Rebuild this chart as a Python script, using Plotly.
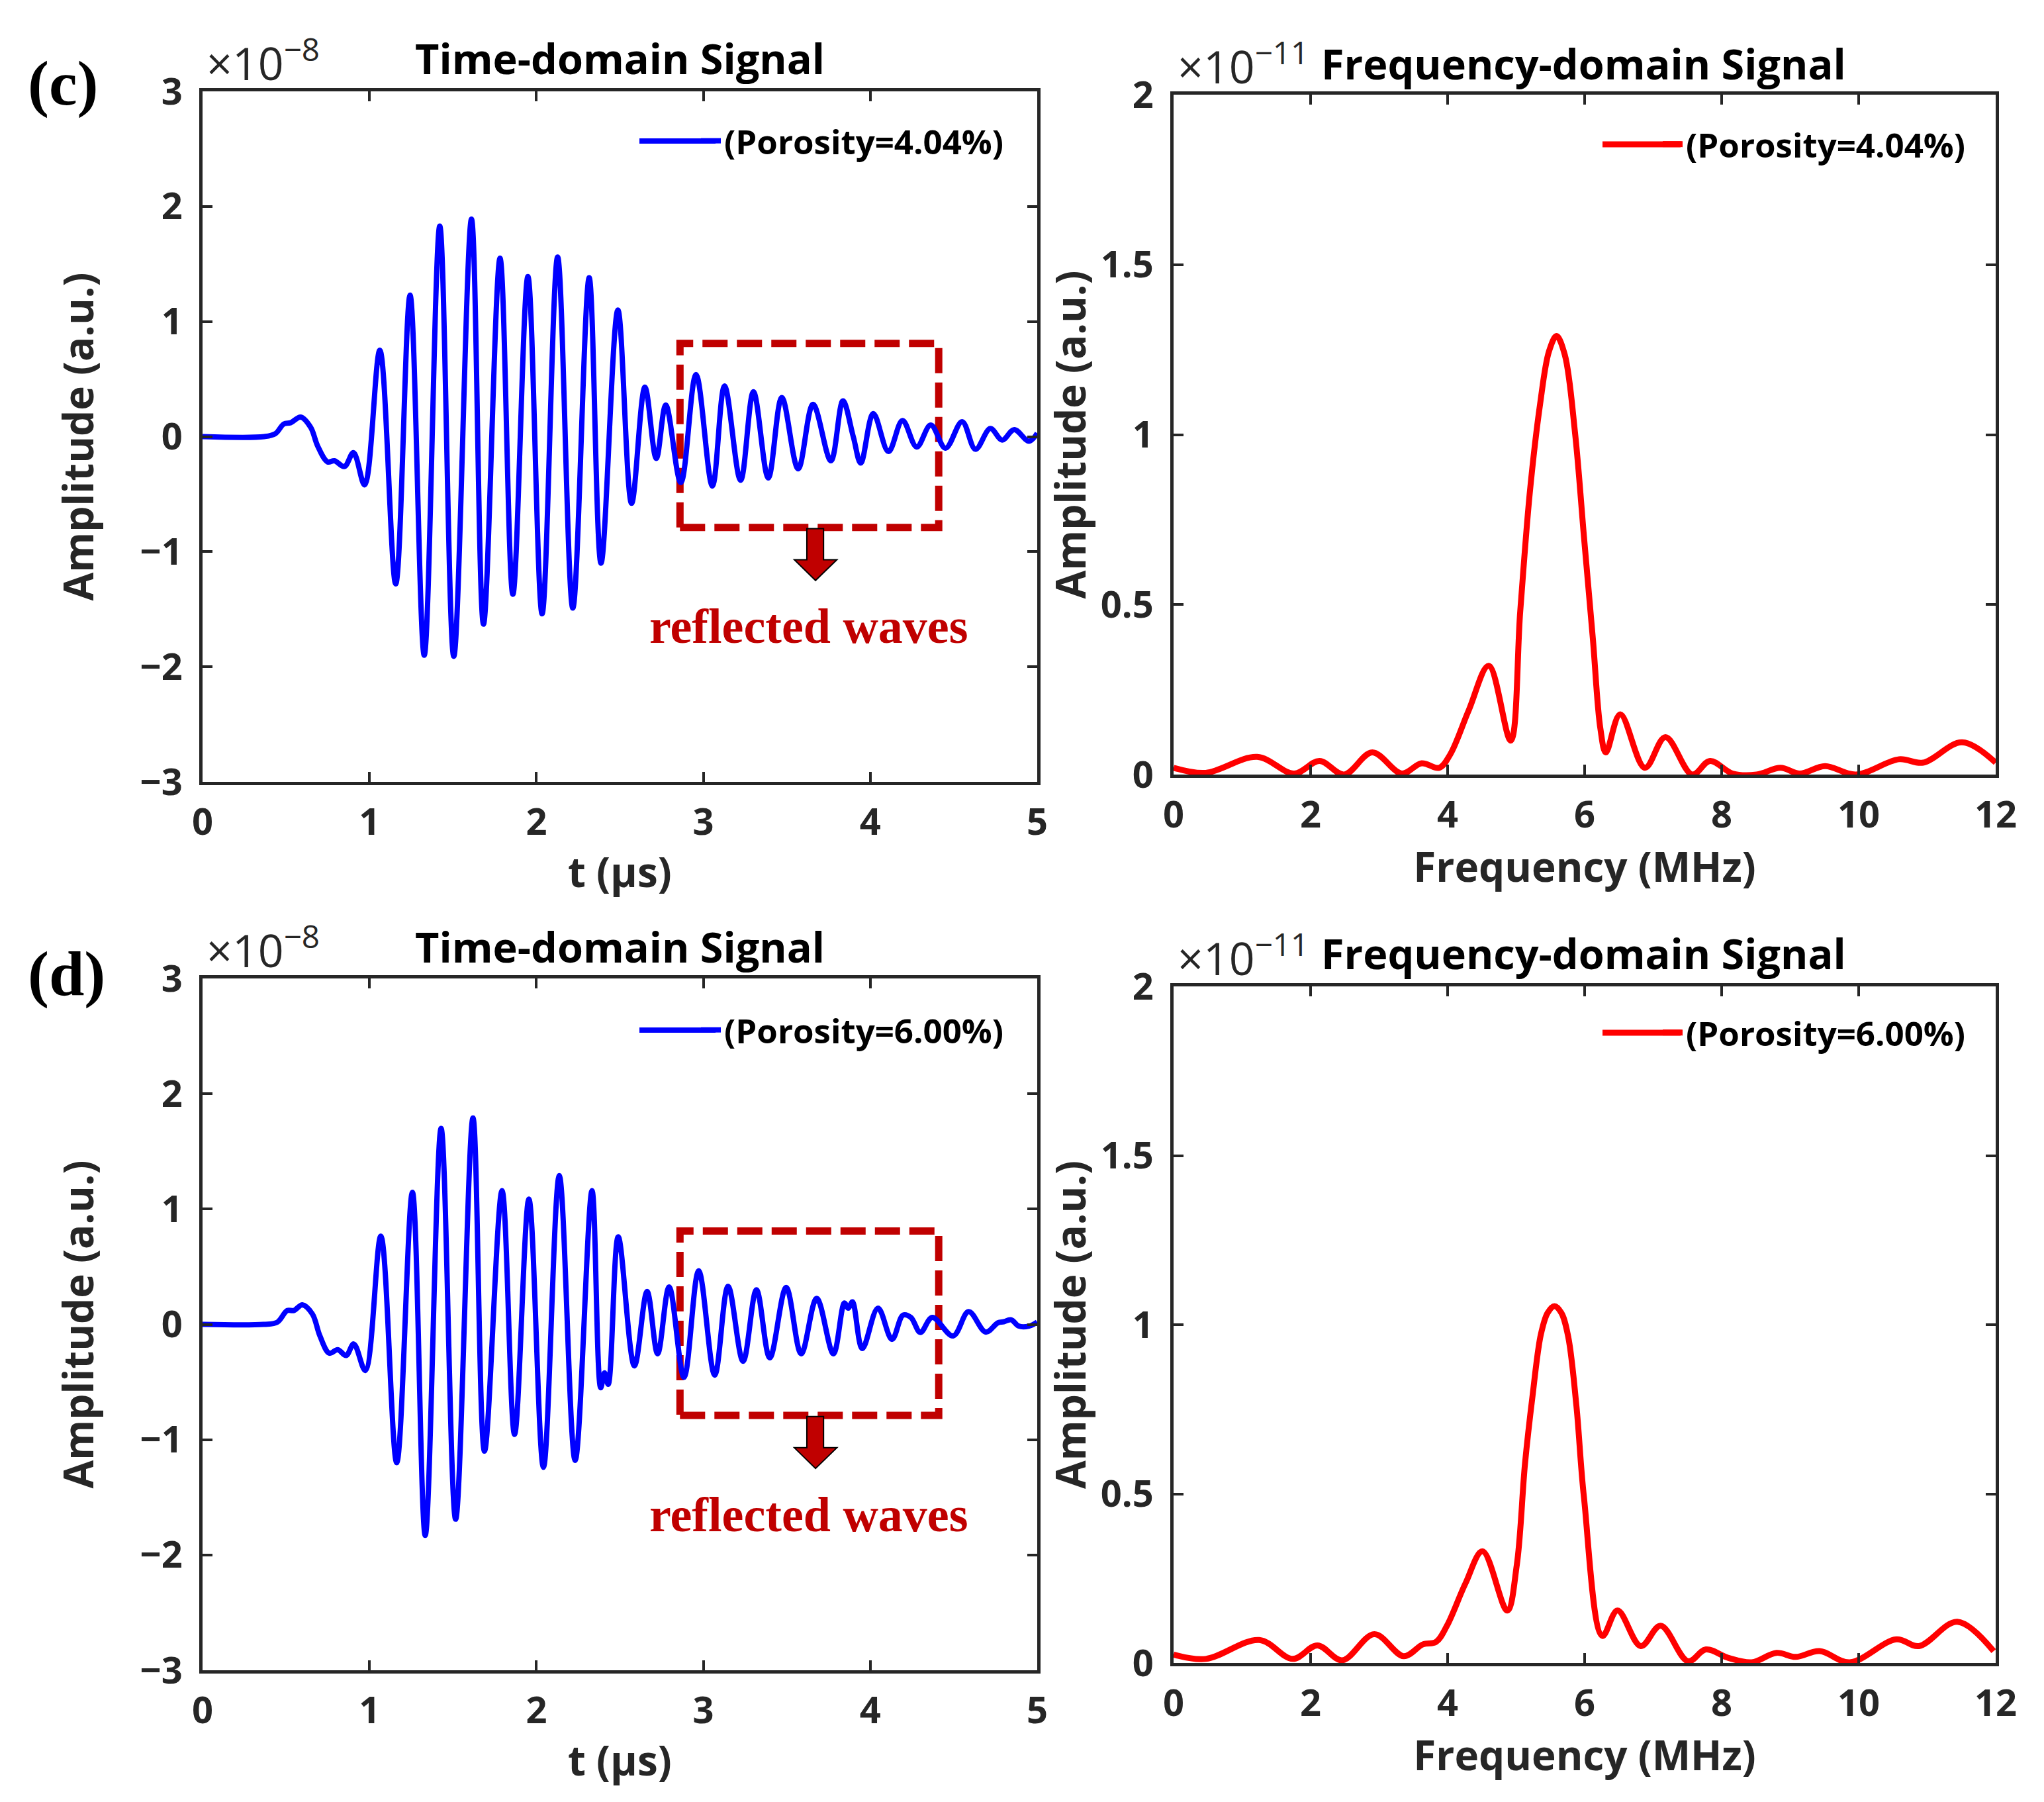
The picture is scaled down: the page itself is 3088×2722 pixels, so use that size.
import plotly.graph_objects as go

W, H = 3088, 2722          # window size
OFF = 8                    # default page margin of the html body
FW, FH = W - 2 * OFF, H - 2 * OFF

# ---------------- data ----------------
# (c) time-domain signal, porosity 4.04 %  (t in µs, amplitude in 1e-8)
t_c = [0.0, 0.37, 0.436, 0.487, 0.527, 0.588, 0.648, 0.689, 0.749, 0.79, 0.85, 0.904, 0.971,
       1.062, 1.157, 1.243, 1.328, 1.421, 1.505, 1.611, 1.683, 1.782, 1.859, 1.949, 2.034,
       2.127, 2.218, 2.316, 2.387, 2.488, 2.57, 2.65, 2.718, 2.775, 2.865, 2.956, 3.054,
       3.127, 3.223, 3.30, 3.389, 3.47, 3.568, 3.657, 3.764, 3.836, 3.898, 3.943, 4.018,
       4.109, 4.193, 4.278, 4.362, 4.451, 4.55, 4.63, 4.719, 4.79, 4.862, 4.951, 5.0]
amp_c = [0.0, 0.0, 0.025, 0.11, 0.12, 0.17, 0.08, -0.08, -0.22, -0.21, -0.26, -0.14, -0.42,
         0.75, -1.28, 1.23, -1.90, 1.83, -1.91, 1.89, -1.63, 1.55, -1.37, 1.39, -1.54,
         1.56, -1.49, 1.38, -1.10, 1.10, -0.58, 0.43, -0.19, 0.275, -0.40, 0.54, -0.43,
         0.44, -0.38, 0.39, -0.36, 0.34, -0.28, 0.28, -0.21, 0.31, 0.0, -0.23, 0.20,
         -0.13, 0.14, -0.09, 0.10, -0.10, 0.13, -0.11, 0.07, -0.03, 0.06, -0.04, 0.03]

# (c) frequency-domain signal (f in MHz, amplitude in 1e-11)
f_c = [0.0, 0.47, 1.22, 1.76, 2.13, 2.49, 2.90, 3.33, 3.62, 3.88, 4.04, 4.31, 4.60, 4.92,
       5.06, 5.20, 5.35, 5.48, 5.59, 5.71, 5.86, 5.99, 6.12, 6.23, 6.31, 6.52, 6.88, 7.18,
       7.57, 7.83, 8.16, 8.51, 8.86, 9.14, 9.51, 9.96, 10.59, 10.94, 11.51, 12.0]
spec_c = [0.02, 0.005, 0.052, 0.003, 0.04, 0.0, 0.065, 0.003, 0.033, 0.02, 0.06, 0.19, 0.32, 0.10,
          0.48, 0.83, 1.09, 1.245, 1.29, 1.235, 1.005, 0.70, 0.40, 0.135, 0.065, 0.177, 0.02, 0.11,
          0.0, 0.04, 0.003, 0.0, 0.02, 0.003, 0.025, 0.0, 0.045, 0.035, 0.095, 0.035]

# (d) time-domain signal, porosity 6.00 %
t_d = [0.0, 0.366, 0.447, 0.507, 0.547, 0.598, 0.658, 0.703, 0.759, 0.81, 0.86, 0.906, 0.975,
       1.068, 1.163, 1.257, 1.334, 1.429, 1.516, 1.62, 1.689, 1.794, 1.869, 1.955, 2.042,
       2.137, 2.232, 2.333, 2.385, 2.408, 2.43, 2.49, 2.587, 2.663, 2.726, 2.795, 2.884,
       2.972, 3.068, 3.148, 3.238, 3.318, 3.398, 3.496, 3.586, 3.679, 3.779, 3.845, 3.868,
       3.893, 3.952, 4.046, 4.13, 4.196, 4.243, 4.30, 4.371, 4.496, 4.589, 4.692, 4.764,
       4.80, 4.844, 4.889, 4.951, 5.0]
amp_d = [0.0, 0.0, 0.018, 0.12, 0.12, 0.17, 0.09, -0.10, -0.25, -0.22, -0.27, -0.17, -0.40,
         0.765, -1.20, 1.146, -1.83, 1.70, -1.69, 1.79, -1.10, 1.16, -0.955, 1.087, -1.24,
         1.29, -1.18, 1.16, -0.55, -0.42, -0.52, 0.76, -0.36, 0.285, -0.255, 0.325, -0.46,
         0.465, -0.44, 0.33, -0.32, 0.30, -0.29, 0.32, -0.255, 0.225, -0.255, 0.185, 0.14,
         0.195, -0.21, 0.14, -0.13, 0.08, 0.06, -0.07, 0.06, -0.10, 0.11, -0.067, 0.013,
         0.023, 0.04, -0.015, -0.015, 0.02]

# (d) frequency-domain signal
f_d = [0.0, 0.47, 1.25, 1.74, 2.10, 2.46, 2.93, 3.36, 3.64, 3.83, 3.99, 4.26, 4.51, 4.87,
       5.01, 5.13, 5.24, 5.36, 5.46, 5.56, 5.66, 5.76, 5.88, 5.99, 6.26, 6.48, 6.82, 7.11,
       7.51, 7.77, 8.10, 8.44, 8.80, 9.08, 9.43, 9.87, 10.55, 10.88, 11.44, 11.97]
spec_d = [0.025, 0.012, 0.068, 0.012, 0.052, 0.008, 0.085, 0.02, 0.055, 0.062, 0.11, 0.235, 0.33, 0.155,
          0.29, 0.59, 0.79, 0.97, 1.035, 1.055, 1.035, 0.965, 0.76, 0.49, 0.08, 0.155, 0.05, 0.11,
          0.005, 0.04, 0.015, 0.002, 0.03, 0.018, 0.035, 0.002, 0.07, 0.05, 0.122, 0.035]

legend_c = "(Porosity=4.04%)"
legend_d = "(Porosity=6.00%)"
time_ticks = [0, 1, 2, 3, 4, 5]
amp_ticks = [-3, -2, -1, 0, 1, 2, 3]
freq_ticks = [0, 2, 4, 6, 8, 10, 12]
spec_ticks = [0, 0.5, 1, 1.5, 2]

# ---------------- styling ----------------
SANS = "Open Sans"
SERIF = "Liberation Serif"
INK = "#262626"
DARKRED = "#C00000"
BLUE = "#0000FF"
RED = "#FF0000"


def px(x):
    return (x - OFF) / FW


def py(y):
    return 1 - (y - OFF) / FH


X_L = [px(306), px(1567)]
X_R = [px(1773), px(3015)]
Y_TL = [py(1181), py(138)]
Y_TR = [py(1170), py(143)]
Y_BL = [py(2523), py(1478)]
Y_BR = [py(2512), py(1490)]

fig = go.Figure()

fig.add_trace(go.Scatter(x=t_c, y=amp_c, mode="lines", name=legend_c,
                         line=dict(color=BLUE, width=8, shape="spline", smoothing=1.0),
                         xaxis="x", yaxis="y", legend="legend"))
fig.add_trace(go.Scatter(x=f_c, y=spec_c, mode="lines", name=legend_c,
                         line=dict(color=RED, width=9, shape="spline", smoothing=1.0),
                         xaxis="x2", yaxis="y2", legend="legend2"))
fig.add_trace(go.Scatter(x=t_d, y=amp_d, mode="lines", name=legend_d,
                         line=dict(color=BLUE, width=8, shape="spline", smoothing=1.0),
                         xaxis="x3", yaxis="y3", legend="legend3"))
fig.add_trace(go.Scatter(x=f_d, y=spec_d, mode="lines", name=legend_d,
                         line=dict(color=RED, width=9, shape="spline", smoothing=1.0),
                         xaxis="x4", yaxis="y4", legend="legend4"))

tickfont = dict(family=SANS, size=56, color=INK, weight="bold")
titlefont = dict(family=SANS, size=62, color=INK, weight="bold")


def axis(domain, anchor, rng, ticks, title, standoff, labelgap, **kw):
    d = dict(domain=domain, anchor=anchor, range=rng, tickvals=ticks,
             showline=True, linecolor=INK, linewidth=5, mirror="ticks",
             ticks="inside", ticklen=15, tickwidth=4, tickcolor=INK,
             showgrid=False, zeroline=False, tickfont=tickfont,
             ticklabelstandoff=labelgap,
             title=dict(text=title, font=titlefont, standoff=standoff))
    d.update(kw)
    return d


fig.update_layout(
    xaxis=axis(X_L, "y", [0, 5], time_ticks, "t (µs)", 22, 8),
    yaxis=axis(Y_TL, "x", [-3, 3], amp_ticks, "Amplitude (a.u.)", 52, 14),
    xaxis2=axis(X_R, "y2", [0, 12], freq_ticks, "Frequency (MHz)", 14, 8),
    yaxis2=axis(Y_TR, "x2", [0, 2], spec_ticks, "Amplitude (a.u.)", 4, 14),
    xaxis3=axis(X_L, "y3", [0, 5], time_ticks, "t (µs)", 22, 8),
    yaxis3=axis(Y_BL, "x3", [-3, 3], amp_ticks, "Amplitude (a.u.)", 52, 14),
    xaxis4=axis(X_R, "y4", [0, 12], freq_ticks, "Frequency (MHz)", 14, 8),
    yaxis4=axis(Y_BR, "x4", [0, 2], spec_ticks, "Amplitude (a.u.)", 4, 14),
)

legfont = dict(family=SANS, size=51, color="#000000", weight="bold")


def leg(text_left, yc):
    return dict(x=px(text_left - 42), y=py(yc), xanchor="left", yanchor="middle",
                bgcolor="rgba(0,0,0,0)", borderwidth=0, font=legfont,
                itemwidth=30, tracegroupgap=0)


# legend rows: (legend name, line start, line end, text start, centre y, colour, width)
legend_rows = [("legend", 966, 1081, 1096, 213, BLUE, 8),
               ("legend2", 2421, 2539, 2549, 218, RED, 9),
               ("legend3", 966, 1081, 1096, 1556, BLUE, 8),
               ("legend4", 2421, 2539, 2549, 1560, RED, 9)]
fig.update_layout(**{name: leg(tx, yc) for name, _, _, tx, yc, _, _ in legend_rows})

annotations = []
# subplot titles
for txt, xc, yc in [("Time-domain Signal", 936, 88), ("Frequency-domain Signal", 2392, 96),
                    ("Time-domain Signal", 936, 1429), ("Frequency-domain Signal", 2392, 1439)]:
    annotations.append(dict(text=txt, x=px(xc), y=py(yc), xref="paper", yref="paper",
                            xanchor="center", yanchor="middle", showarrow=False,
                            font=dict(family=SANS, size=63, color="#000000", weight="bold")))
# exponent labels
for txt, xl, yb in [("×10<sup>−8</sup>", 310, 143), ("×10<sup>−11</sup>", 1777, 148),
                    ("×10<sup>−8</sup>", 310, 1483), ("×10<sup>−11</sup>", 1777, 1495)]:
    annotations.append(dict(text=txt, x=px(xl), y=py(yb), xref="paper", yref="paper",
                            xanchor="left", yanchor="bottom", showarrow=False,
                            font=dict(family=SANS, size=68, color=INK)))
# panel letters
for txt, xc, yc in [("(c)", 95, 126), ("(d)", 100, 1470)]:
    annotations.append(dict(text=txt, x=px(xc), y=py(yc), xref="paper", yref="paper",
                            xanchor="center", yanchor="middle", showarrow=False,
                            font=dict(family=SERIF, size=96, color="#000000", weight="bold")))
# "reflected waves" labels
for xr, yr in [("x", "y"), ("x3", "y3")]:
    annotations.append(dict(text="reflected waves", x=3.63, y=-1.65, xref=xr, yref=yr,
                            xanchor="center", yanchor="middle", showarrow=False,
                            font=dict(family=SERIF, size=74, color=DARKRED, weight="bold")))
fig.update_layout(annotations=annotations)

shapes = []
for xr, yr in [("x", "y"), ("x3", "y3")]:
    shapes.append(dict(type="rect", xref=xr, yref=yr, x0=2.86, x1=4.41, y0=-0.79, y1=0.81,
                       line=dict(color=DARKRED, width=11, dash="38px,14px"), layer="below"))
    shapes.append(dict(type="path", xref=xr, yref=yr,
                       path="M 3.62,-0.80 L 3.72,-0.80 L 3.72,-1.07 L 3.80,-1.07 L 3.672,-1.25 "
                            "L 3.545,-1.07 L 3.62,-1.07 Z",
                       fillcolor=DARKRED, line=dict(color="#000000", width=2)))
# longer legend sample lines (MATLAB style), drawn next to each legend entry
for _, x0, x1, _, yc, col, wd in legend_rows:
    shapes.append(dict(type="line", xref="paper", yref="paper", x0=px(x0), x1=px(x1),
                       y0=py(yc), y1=py(yc), line=dict(color=col, width=wd)))
fig.update_layout(shapes=shapes)

fig.update_layout(width=FW, height=FH, margin=dict(l=0, r=0, t=0, b=0, autoexpand=False),
                  paper_bgcolor="white", plot_bgcolor="white", showlegend=True)

fig.write_html("out.html")
